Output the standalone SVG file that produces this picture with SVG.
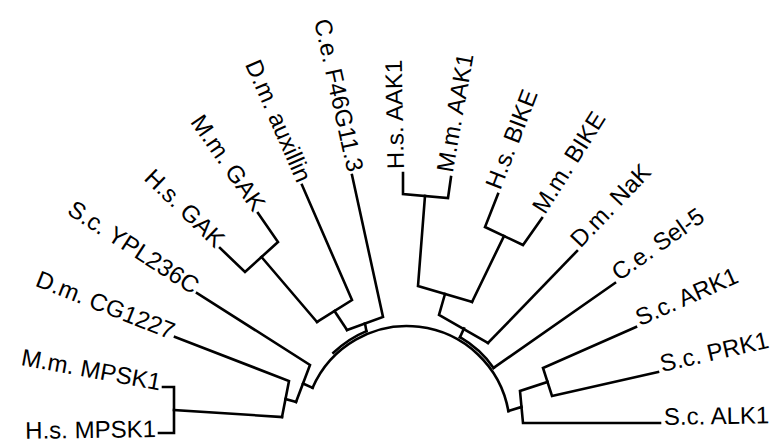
<svg xmlns="http://www.w3.org/2000/svg" width="779" height="445" viewBox="0 0 779 445">
<style>
.e{fill:none;stroke:#000;stroke-width:2.6;stroke-linejoin:miter;stroke-linecap:square}
.l{font-family:"Liberation Sans",Arial,sans-serif;font-size:24px;fill:#000}
.L{text-anchor:end}
</style>
<rect width="779" height="445" fill="#fff"/>
<g id="connectors" class="e">
<path d="M312.6,387.8 A103,103 0 0 1 508.4,411.1"/>
<path d="M333.4,352.8 A106,106 0 0 1 366.4,331.1"/>
<path d="M460,337.2 A106,106 0 0 1 493.6,367.9"/>
<path d="M163,387 H174 V433 H159"/>
<path d="M174,410 L282,417"/>
<path d="M175,337 L289,381 L282,417"/>
<path d="M285.5,399 L296,402"/>
<path d="M197,293 L310,365 L296,402"/>
<path d="M303,383.5 L312.6,387.8"/>
<path d="M220,248 L245,272 L278,242 L258,213"/>
<path d="M261.5,257 L317,322"/>
<path d="M302,185 L352,300 L317,322"/>
<path d="M334.5,311 L347,330"/>
<path d="M352,175 L383,317 L347,330"/>
<path d="M365,323.5 L366.4,331.1"/>
<path d="M403,173 L403,194 L448,198 L451,177"/>
<path d="M425,196 L418,286 L472,302"/>
<path d="M498,194 L485,227 L523,245 L542,218"/>
<path d="M472,302 L504,236"/>
<path d="M445,294 L439,315 L488,343"/>
<path d="M488,343 L577,251"/>
<path d="M464,328.5 L460,337.2"/>
<path d="M493.6,367.9 L615,283"/>
<path d="M636,327 L543,368 L552,396 L658,372"/>
<path d="M547.5,382 L520,391 L523,423 L660,423"/>
<path d="M521.5,407 L508.4,411.1"/>
</g>
<g id="hs-mpsk1"><text class="l L" transform="translate(156,433) rotate(-0.8)" y="4">H.s. MPSK1</text></g>
<g id="mm-mpsk1"><text class="l L" transform="translate(160,386.5) rotate(10.4)" y="4">M.m. MPSK1</text></g>
<g id="dm-cg1227"><text class="l L" transform="translate(172.2,335.9) rotate(21.6)" y="4">D.m. CG1227</text></g>
<g id="sc-ypl236c"><text class="l L" transform="translate(194.5,291.4) rotate(32.8)" y="4">S.c. YPL236C</text></g>
<g id="hs-gak"><text class="l L" transform="translate(217.8,245.9) rotate(44)" y="4">H.s. GAK</text></g>
<g id="mm-gak"><text class="l L" transform="translate(256.3,210.5) rotate(55.2)" y="4">M.m. GAK</text></g>
<g id="dm-auxillin"><text class="l L" transform="translate(300.8,182.3) rotate(66.4)" y="4">D.m. auxillin</text></g>
<g id="ce-f46g11"><text class="l L" transform="translate(351.4,172.1) rotate(77.6)" y="4">C.e. F46G11.3</text></g>
<g id="hs-aak1"><text class="l" transform="translate(402.9,169) rotate(-91.2)" y="1">H.s. AAK1</text></g>
<g id="mm-aak1"><text class="l" transform="translate(451.7,173.1) rotate(-80)" y="1">M.m. AAK1</text></g>
<g id="hs-bike"><text class="l" transform="translate(499.4,190.3) rotate(-68.8)" y="1">H.s. BIKE</text></g>
<g id="mm-bike"><text class="l" transform="translate(544.1,214.6) rotate(-57.6)" y="1">M.m. BIKE</text></g>
<g id="dm-nak"><text class="l" transform="translate(579.8,248.1) rotate(-46.4)" y="1">D.m. NaK</text></g>
<g id="ce-sel5"><text class="l" transform="translate(618.3,280.7) rotate(-35.2)" y="1">C.e. Sel-5</text></g>
<g id="sc-ark1"><text class="l" transform="translate(639.7,325.4) rotate(-24)" y="1">S.c. ARK1</text></g>
<g id="sc-prk1"><text class="l" transform="translate(661.9,371.1) rotate(-12.8)" y="1">S.c. PRK1</text></g>
<g id="sc-alk1"><text class="l" transform="translate(664,423) rotate(-1)" y="2">S.c. ALK1</text></g>
</svg>
